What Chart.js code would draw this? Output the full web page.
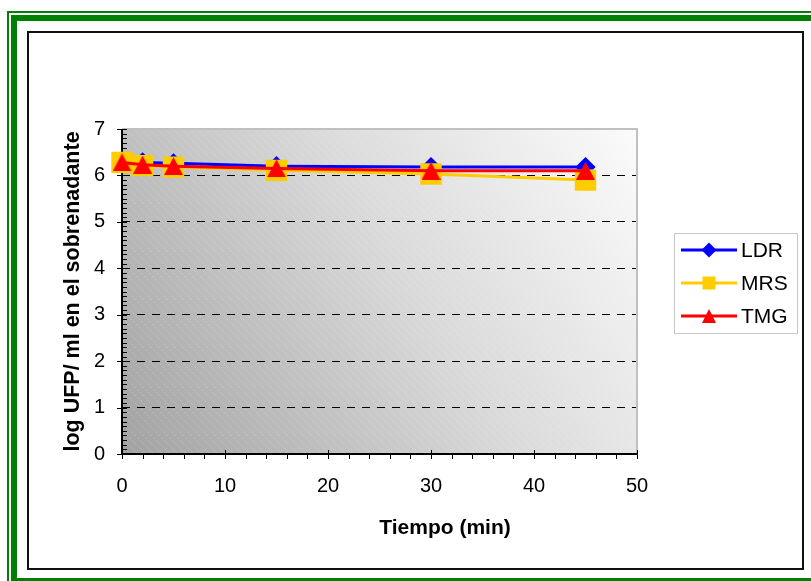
<!DOCTYPE html>
<html>
<head>
<meta charset="utf-8">
<script src="https://cdn.jsdelivr.net/npm/chart.js@4/dist/chart.umd.min.js"></script>
<style>
  html, body { margin: 0; padding: 0; background: #fff; }
  #wrap { position: relative; width: 811px; height: 581px; overflow: hidden; }
  .frame { position: absolute; box-sizing: border-box; }
  #thin { left: 7px; top: 11px; width: 830px; height: 600px; border: 2px solid #008000; }
  #thick { left: 11px; top: 15px; width: 825px; height: 569px; border: 6px solid #008000; }
  #inner { left: 27px; top: 31px; width: 777px; height: 539px; border: 2px solid #111; background: #fff; }
  canvas { position: absolute; left: 0; top: 0; }
</style>
</head>
<body>
<div id="wrap">
  <div class="frame" id="thin"></div>
  <div class="frame" id="thick"></div>
  <div class="frame" id="inner"></div>
  <canvas id="chart" width="811" height="581"></canvas>
</div>
<script>
const tiempo = [0, 2, 5, 15, 30, 45];
const ldr = [6.3, 6.28, 6.26, 6.2, 6.18, 6.18];
const mrs = [6.28, 6.21, 6.18, 6.11, 6.03, 5.9];
const tmg = [6.28, 6.23, 6.2, 6.15, 6.1, 6.1];
const seriesNames = ["LDR", "MRS", "TMG"];
const xTitle = "Tiempo (min)";
const yTitle = "log UFP/ ml en el sobrenadante";

const FONT = "'Liberation Sans', Arial, sans-serif";

function pts(values) {
  return tiempo.map((t, i) => ({ x: t, y: values[i] }));
}

// triangle that fills its box, so it sits centred on the point
function triangleImage(w, h, color) {
  const c = document.createElement("canvas");
  c.width = w;
  c.height = h;
  const g = c.getContext("2d");
  g.fillStyle = color;
  g.beginPath();
  g.moveTo(w / 2, 0);
  g.lineTo(w, h);
  g.lineTo(0, h);
  g.closePath();
  g.fill();
  return c;
}

// gradient + diagonal hatch behind the plot, gray frame, tick marks
const plotDecor = {
  id: "plotDecor",
  beforeDraw(chart) {
    const { ctx, chartArea: a } = chart;
    ctx.save();
    const g = ctx.createLinearGradient(a.left, a.bottom, a.right, a.top);
    g.addColorStop(0, "#a2a2a2");
    g.addColorStop(0.55, "#dadada");
    g.addColorStop(1, "#fbfbfb");
    ctx.fillStyle = g;
    ctx.fillRect(a.left, a.top, a.right - a.left, a.bottom - a.top);
    ctx.beginPath();
    ctx.rect(a.left, a.top, a.right - a.left, a.bottom - a.top);
    ctx.clip();
    ctx.strokeStyle = "rgba(255,255,255,0.22)";
    ctx.lineWidth = 1;
    ctx.setLineDash([2, 2]);
    const h = a.bottom - a.top;
    for (let x = a.left - h; x < a.right; x += 8) {
      ctx.beginPath();
      ctx.moveTo(x, a.top);
      ctx.lineTo(x + h, a.bottom);
      ctx.stroke();
    }
    ctx.restore();
  },
  beforeDatasetsDraw(chart) {
    const { ctx, chartArea: a, scales } = chart;
    ctx.save();
    // top / right frame
    ctx.strokeStyle = "#c0c0c0";
    ctx.lineWidth = 2;
    ctx.beginPath();
    ctx.moveTo(a.left, a.top);
    ctx.lineTo(a.right, a.top);
    ctx.lineTo(a.right, a.bottom);
    ctx.stroke();
    // axes
    ctx.strokeStyle = "#000";
    ctx.lineWidth = 2;
    ctx.beginPath();
    ctx.moveTo(a.left, a.top);
    ctx.lineTo(a.left, a.bottom);
    ctx.lineTo(a.right, a.bottom);
    ctx.stroke();
    // tick marks
    ctx.lineWidth = 1;
    const ys = scales.y;
    for (let k = 0; k <= 70; k++) {
      const py = Math.round(ys.getPixelForValue(k / 10)) + 0.5;
      ctx.beginPath();
      ctx.moveTo(k % 10 === 0 ? a.left - 5 : a.left, py);
      ctx.lineTo(a.left + 5, py);
      ctx.stroke();
    }
    const xs = scales.x;
    for (let v = 0; v <= 50; v += 2) {
      const px = Math.round(xs.getPixelForValue(v)) + 0.5;
      ctx.beginPath();
      ctx.moveTo(px, v % 10 === 0 ? a.bottom - 4 : a.bottom);
      ctx.lineTo(px, a.bottom + 5);
      ctx.stroke();
    }
    // x axis title, centred on the chart box rather than the plot
    ctx.fillStyle = "#000";
    ctx.font = "bold 21px " + FONT;
    ctx.textAlign = "center";
    ctx.textBaseline = "middle";
    ctx.fillText(xTitle, 445, 528);
    ctx.restore();
  }
};

function drawMarker(ctx, style, x, y, r, color) {
  ctx.fillStyle = color;
  ctx.beginPath();
  if (style === "rect") {
    ctx.rect(x - r, y - r, 2 * r, 2 * r);
  } else if (style === "rectRot") {
    ctx.moveTo(x, y - r);
    ctx.lineTo(x + r, y);
    ctx.lineTo(x, y + r);
    ctx.lineTo(x - r, y);
    ctx.closePath();
  } else {
    ctx.moveTo(x, y - r);
    ctx.lineTo(x + r, y + r);
    ctx.lineTo(x - r, y + r);
    ctx.closePath();
  }
  ctx.fill();
}

// legend box at the right of the plot
const sideLegend = {
  id: "sideLegend",
  afterDraw(chart) {
    const { ctx } = chart;
    const box = { x: 674, y: 233, w: 123, h: 100 };
    const styles = ["rectRot", "rect", "triangle"];
    const legendSize = [7.5, 6.5, 7];
    ctx.save();
    ctx.fillStyle = "#fff";
    ctx.fillRect(box.x, box.y, box.w, box.h);
    ctx.strokeStyle = "#c8c8c8";
    ctx.lineWidth = 1;
    ctx.strokeRect(box.x + 0.5, box.y + 0.5, box.w, box.h);
    chart.data.datasets.forEach((ds, i) => {
      const y = box.y + 17 + i * 33;
      ctx.strokeStyle = ds.borderColor;
      ctx.lineWidth = 3;
      ctx.beginPath();
      ctx.moveTo(box.x + 7, y);
      ctx.lineTo(box.x + 63, y);
      ctx.stroke();
      drawMarker(ctx, styles[i], box.x + 35, y, legendSize[i], ds.borderColor);
      ctx.fillStyle = "#000";
      ctx.font = "21px " + FONT;
      ctx.textBaseline = "middle";
      ctx.textAlign = "left";
      ctx.fillText(ds.label, box.x + 67, y + 1);
    });
    ctx.restore();
  }
};

new Chart(document.getElementById("chart"), {
  type: "line",
  data: {
    datasets: [
      {
        label: seriesNames[0],
        data: pts(ldr),
        order: 2,
        clip: false,
        borderColor: "#0000ff",
        pointBackgroundColor: "#0000ff",
        pointBorderColor: "#0000ff",
        pointStyle: "rectRot",
        pointRadius: 8,
        borderWidth: 3
      },
      {
        label: seriesNames[1],
        data: pts(mrs),
        order: 1,
        clip: false,
        borderColor: "#ffcc00",
        pointBackgroundColor: "#ffcc00",
        pointBorderColor: "#ffcc00",
        pointStyle: "rect",
        pointRadius: 13,
        borderWidth: 3
      },
      {
        label: seriesNames[2],
        data: pts(tmg),
        order: 0,
        clip: false,
        borderColor: "#ff0000",
        pointBackgroundColor: "#ff0000",
        pointBorderColor: "#ff0000",
        pointStyle: triangleImage(19, 18, "#ff0000"),
        pointRadius: 10,
        borderWidth: 3
      }
    ]
  },
  options: {
    responsive: false,
    devicePixelRatio: 1,
    animation: false,
    layout: { padding: { left: 0, top: 129, right: 174, bottom: 0 } },
    plugins: { legend: { display: false }, tooltip: { enabled: false } },
    elements: { line: { tension: 0 }, point: { borderWidth: 1 } },
    scales: {
      x: {
        type: "linear",
        min: 0,
        max: 50,
        afterFit(scale) { scale.height = 127; },
        grid: { display: false, drawTicks: false },
        border: { display: false },
        ticks: { stepSize: 10, color: "#000", padding: 20, font: { family: FONT, size: 20 } }
      },
      y: {
        min: 0,
        max: 7,
        afterFit(scale) { scale.width = 122; },
        grid: {
          drawTicks: false,
          lineWidth: 1,
          color: (c) => (c.tick && (c.tick.value === 0 || c.tick.value === 7) ? "rgba(0,0,0,0)" : "#000")
        },
        border: { display: false, dash: [8, 7] },
        ticks: { stepSize: 1, color: "#000", padding: 17, font: { family: FONT, size: 20 } },
        title: {
          display: true,
          text: yTitle,
          color: "#000",
          font: { family: FONT, size: 21.5, weight: "bold" },
          padding: { top: 60, bottom: 0 }
        }
      }
    }
  },
  plugins: [plotDecor, sideLegend]
});
</script>
</body>
</html>
